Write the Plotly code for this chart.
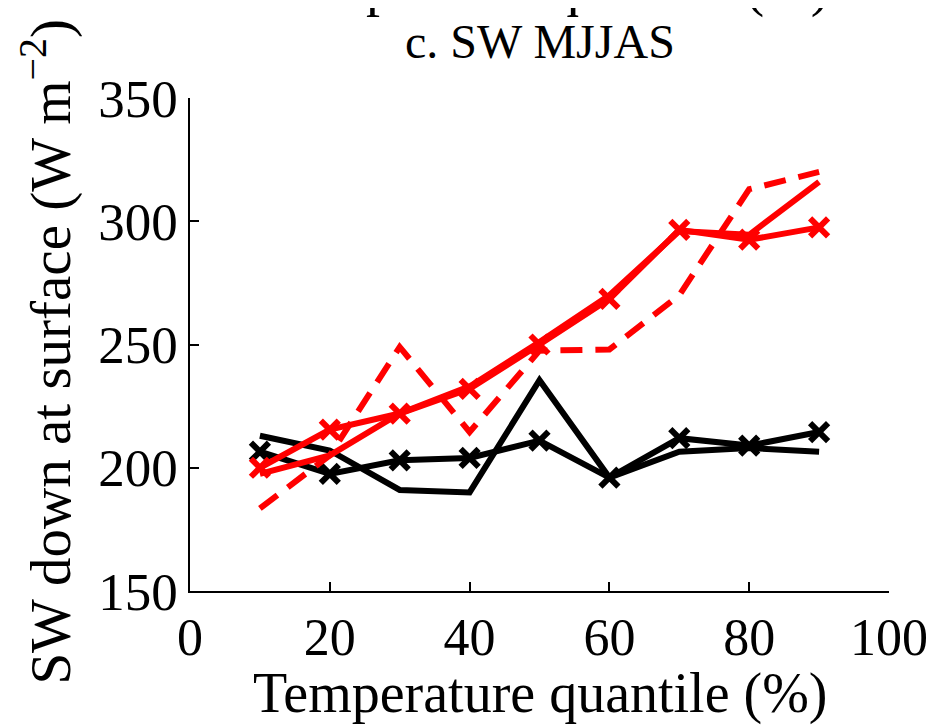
import plotly.graph_objects as go

quantile = [10, 20, 30, 40, 50, 60, 70, 80, 90]
black_marked = [206.5, 197.5, 203, 204, 211, 196, 212, 209, 214.5]
black_plain = [213, 207, 191, 190, 235.5, 196, 206.5, 208, 206.5]
red_marked = [200, 215.5, 222, 232, 250, 268.5, 296.5, 292.5, 297.5]
red_plain = [197.5, 205, 222, 233, 251, 270, 296, 294.5, 316]
red_dashed = [183.5, 205, 249, 214.5, 247.5, 248, 270, 313, 320]

x_ticks = [0, 20, 40, 60, 80, 100]
y_ticks = [150, 200, 250, 300, 350]

FONT = "Liberation Serif"
LW = 6

fig = go.Figure()
fig.add_trace(go.Scatter(x=quantile, y=black_plain, mode="lines",
                         line=dict(color="black", width=LW)))
fig.add_trace(go.Scatter(x=quantile, y=black_marked, mode="lines+markers",
                         line=dict(color="black", width=LW),
                         marker=dict(symbol="x-thin-open", size=18,
                                     line=dict(color="black", width=6))))
fig.add_trace(go.Scatter(x=quantile, y=red_dashed, mode="lines",
                         line=dict(color="red", width=LW, dash="22px,13px")))
fig.add_trace(go.Scatter(x=quantile, y=red_plain, mode="lines",
                         line=dict(color="red", width=LW)))
fig.add_trace(go.Scatter(x=quantile, y=red_marked, mode="lines+markers",
                         line=dict(color="red", width=LW),
                         marker=dict(symbol="x-thin-open", size=18,
                                     line=dict(color="red", width=6))))

fig.update_layout(
    width=932, height=720,
    margin=dict(l=182, r=47, t=90, b=137),
    paper_bgcolor="white", plot_bgcolor="white",
    showlegend=False,
    font=dict(family=FONT, color="black"),
    xaxis=dict(range=[0, 100], tickvals=x_ticks, ticks="inside", ticklen=9,
               tickwidth=1.5, tickcolor="black", showline=True, linecolor="black",
               linewidth=1.5, showgrid=False, zeroline=False,
               tickfont=dict(family=FONT, size=52, color="black")),
    yaxis=dict(range=[150, 350], tickvals=y_ticks, ticks="inside", ticklen=9,
               tickwidth=1.5, tickcolor="black", showline=True, linecolor="black",
               linewidth=1.5, showgrid=False, zeroline=False,
               tickfont=dict(family=FONT, size=53, color="black")),
    annotations=[
        dict(text="Temperature quantile (%)", xref="paper", yref="paper",
             x=0.5, y=-0.208, xanchor="center", yanchor="middle", showarrow=False,
             font=dict(family=FONT, size=56, color="black")),
        dict(text="SW down at surface (W m<sup>\u22122</sup>)", xref="paper", yref="paper",
             x=-0.205, y=0.485, xanchor="center", yanchor="middle", showarrow=False,
             textangle=-90, font=dict(family=FONT, size=57, color="black")),
        dict(text="c. SW MJJAS", xref="paper", yref="paper",
             x=0.5, y=1.1136, xanchor="center", yanchor="middle", showarrow=False,
             font=dict(family=FONT, size=48, color="black")),
        dict(text="Precipitation quantile (%)", xref="paper", yref="paper",
             x=0.5, y=1.158, xanchor="center", yanchor="bottom", showarrow=False,
             font=dict(family=FONT, size=56, color="black")),
    ],
)

fig.write_html("out.html")
